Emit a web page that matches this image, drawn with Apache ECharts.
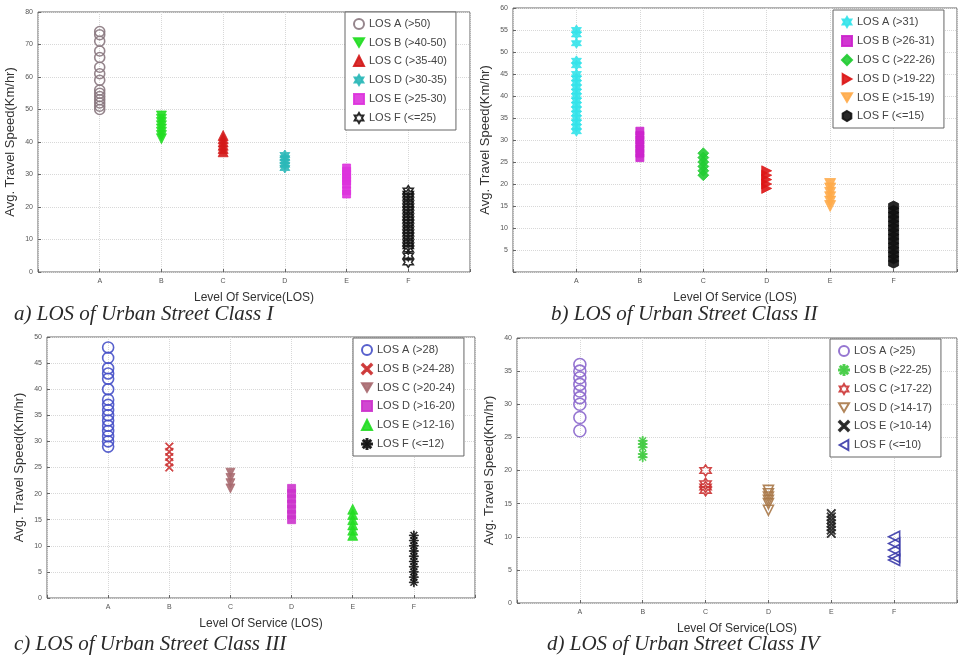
<!DOCTYPE html>
<html>
<head>
<meta charset="utf-8">
<script src="https://cdn.jsdelivr.net/npm/echarts@6/dist/echarts.min.js"></script>
<style>
  html, body { margin: 0; padding: 0; background: #fff; }
  #chart { width: 960px; height: 659px; }
</style>
</head>
<body>
<div id="chart"></div>
<script>
// category labels on the x axis (placed at 1..6)
const losCats = ["A", "B", "C", "D", "E", "F"];

// a) Urban Street Class I
const legendI = ["LOS A (>50)", "LOS B (>40-50)", "LOS C (>35-40)", "LOS D (>30-35)", "LOS E (>25-30)", "LOS F (<=25)"];
const classI = [
    [74, 73, 71, 68, 66, 63, 61, 59, 56, 55, 54, 53, 52, 51, 50],
    [48, 47, 46, 45, 44, 43, 42, 41],
    [42, 41, 40, 39, 38, 37],
    [36, 35, 34, 33, 32],
    [32, 31, 30, 29, 28, 27, 25, 24],
    [25, 24, 23, 22, 21, 20, 19, 18, 17, 16, 15, 14, 13, 12, 11, 10, 9, 8, 7, 5, 3]
];

// b) Urban Street Class II
const legendII = ["LOS A (>31)", "LOS B (>26-31)", "LOS C (>22-26)", "LOS D (>19-22)", "LOS E (>15-19)", "LOS F (<=15)"];
const classII = [
    [55, 54, 52, 48, 47, 45, 44, 43, 42, 41, 40, 39, 38, 37, 36, 35, 34, 33, 32],
    [32, 31, 30, 29, 28, 27, 26],
    [27, 26, 25, 24, 23, 22],
    [23, 22, 21, 20, 19],
    [20, 19, 18, 17, 16, 15],
    [15, 14, 13, 12, 11, 10, 9, 8, 7, 6, 5, 4, 3, 2]
];

// c) Urban Street Class III
const legendIII = ["LOS A (>28)", "LOS B (>24-28)", "LOS C (>20-24)", "LOS D (>16-20)", "LOS E (>12-16)", "LOS F (<=12)"];
const classIII = [
    [48, 46, 44, 43, 42, 40, 38, 37, 36, 35, 34, 33, 32, 31, 30, 29],
    [29, 28, 27, 26, 25],
    [24, 23, 22, 21],
    [21, 20, 19, 18, 17, 16, 15],
    [17, 16, 15, 14, 13, 12],
    [12, 11, 10, 9, 8, 7, 6, 5, 4, 3]
];

// d) Urban Street Class IV
const legendIV = ["LOS A (>25)", "LOS B (>22-25)", "LOS C (>17-22)", "LOS D (>14-17)", "LOS E (>10-14)", "LOS F (<=10)"];
const classIV = [
    [36, 35, 34, 33, 32, 31, 30, 28, 26],
    [24.5, 24, 23.5, 22.5, 22],
    [20, 18, 17.5, 17],
    [17, 16.5, 16, 15.5, 15, 14],
    [13.5, 13, 12.5, 12, 11.5, 11, 10.5],
    [10, 9, 8, 7, 6.5]
];

const captions = [
    "a) LOS of Urban Street Class I",
    "b) LOS of Urban Street Class II",
    "c) LOS of Urban Street Class III",
    "d) LOS of Urban Street Class IV"
];
const xNames = ["Level Of Service(LOS)", "Level Of Service (LOS)", "Level Of Service (LOS)", "Level Of Service(LOS)"];
const yNames = ["Avg. Travel Speed(Km/hr)", "Avg. Travel Speed(Km/hr)", "Avg. Travel Speed(Km/hr)", "Avg. Travel Speed(Km/hr)"];
const yMax = [80, 60, 50, 40];
const yStep = [10, 5, 5, 5];

// marker shapes
const HEXAGRAM = "path://M0,-10 L2.9,-5 L8.66,-5 L5.8,0 L8.66,5 L2.9,5 L0,10 L-2.9,5 L-8.66,5 L-5.8,0 L-8.66,-5 L-2.9,-5 Z";
const HEXAGON = "path://M0,-10 L8.66,-5 L8.66,5 L0,10 L-8.66,5 L-8.66,-5 Z";
const CROSS = "path://M-10,-8 L-8,-10 L0,-2 L8,-10 L10,-8 L2,0 L10,8 L8,10 L0,2 L-8,10 L-10,8 L-2,0 Z";
const ASTERISK = "path://M-1,-10 L1,-10 L1,-2.4 L6.4,-7.8 L7.8,-6.4 L2.4,-1 L10,-1 L10,1 L2.4,1 L7.8,6.4 L6.4,7.8 L1,2.4 L1,10 L-1,10 L-1,2.4 L-6.4,7.8 L-7.8,6.4 L-2.4,1 L-10,1 L-10,-1 L-2.4,-1 L-7.8,-6.4 L-6.4,-7.8 L-1,-2.4 Z";
const TRI_DOWN = "path://M-10,-8.66 L10,-8.66 L0,8.66 Z";
const TRI_RIGHT = "path://M-8.66,-10 L8.66,0 L-8.66,10 Z";
const TRI_LEFT = "path://M8.66,-10 L-8.66,0 L8.66,10 Z";

// style per class for each panel: [symbol, color, hollow, size]
const styles = [
    [["circle", "#8a7880", true, 10], [TRI_DOWN, "#22dd22", false, 10], ["triangle", "#d41a1a", false, 10],
     [HEXAGRAM, "#2bb8b8", false, 10], ["rect", "#dd33dd", false, 8], [HEXAGRAM, "#111111", true, 10]],
    [[HEXAGRAM, "#33e3ea", false, 10], ["rect", "#cc22cc", false, 8], ["diamond", "#22cc33", false, 11],
     [TRI_RIGHT, "#dd1515", false, 10], [TRI_DOWN, "#ffab4a", false, 11], [HEXAGON, "#111111", false, 10]],
    [["circle", "#4650c8", true, 11], [CROSS, "#cc3333", false, 8], [TRI_DOWN, "#a86a70", false, 9],
     ["rect", "#cc33cc", false, 8], ["triangle", "#22dd22", false, 10], [ASTERISK, "#111111", false, 9]],
    [["circle", "#8a66cc", true, 12], [ASTERISK, "#44cc44", false, 9], [HEXAGRAM, "#cc3333", true, 11],
     [TRI_DOWN, "#a87848", true, 10], [CROSS, "#222222", false, 9], [TRI_LEFT, "#3838a8", true, 11]]
];

const panelData = [classI, classII, classIII, classIV];
const panelLegends = [legendI, legendII, legendIII, legendIV];

const grids = [
    { left: 38, top: 12, width: 432, height: 260 },
    { left: 513, top: 8, width: 444, height: 264 },
    { left: 47, top: 337, width: 428, height: 261 },
    { left: 517, top: 338, width: 441, height: 265 }
];
const legendPos = [
    { left: 345, top: 12 },
    { left: 833, top: 10 },
    { left: 353, top: 338 },
    { left: 830, top: 339 }
];
const captionPos = [
    { left: 9, top: 299 },
    { left: 546, top: 299 },
    { left: 9, top: 629 },
    { left: 542, top: 629 }
];

var chart = echarts.init(document.getElementById("chart"));

const series = [];
panelData.forEach((panel, p) => {
    panel.forEach((vals, k) => {
        const st = styles[p][k];
        series.push({
            type: "scatter",
            name: panelLegends[p][k],
            xAxisIndex: p,
            yAxisIndex: p,
            symbol: st[0],
            symbolSize: st[3],
            itemStyle: {
                color: st[2] ? "rgba(255,255,255,0)" : st[1],
                borderColor: st[1],
                borderWidth: st[2] ? 1.6 : 0.8,
                opacity: 0.9
            },
            data: vals.map(v => [k + 1, v])
        });
    });
});

const tickFont = { fontSize: 7, color: "#555", fontFamily: "Liberation Sans" };

chart.setOption({
    backgroundColor: "#ffffff",
    animation: false,
    title: captions.map((t, i) => ({
        text: t,
        left: captionPos[i].left,
        top: captionPos[i].top,
        textStyle: {
            fontFamily: "Liberation Serif",
            fontStyle: "italic",
            fontWeight: "normal",
            fontSize: 21,
            color: "#2a2a2a"
        }
    })),
    grid: grids.map(g => Object.assign({
        show: true,
        borderColor: "#666",
        borderWidth: 1,
        backgroundColor: "#fff"
    }, g)),
    legend: panelLegends.map((names, i) => ({
        data: names,
        orient: "vertical",
        left: legendPos[i].left,
        top: legendPos[i].top,
        itemWidth: 10,
        itemHeight: 10,
        itemGap: 7,
        padding: [6, 9, 6, 8],
        backgroundColor: "#fff",
        borderColor: "#666",
        borderWidth: 1,
        borderRadius: 0,
        selectedMode: false,
        textStyle: { fontSize: 11, color: "#444", fontFamily: "Liberation Sans" }
    })),
    xAxis: grids.map((g, i) => ({
        type: "value",
        gridIndex: i,
        min: 0,
        max: 7,
        interval: 1,
        name: xNames[i],
        nameLocation: "middle",
        nameGap: 20,
        nameTextStyle: { fontSize: 12, color: "#333", fontFamily: "Liberation Sans" },
        axisLine: { show: false },
        axisTick: { show: true, inside: true, length: 3, lineStyle: { color: "#666" } },
        axisLabel: Object.assign({
            margin: 6,
            formatter: v => (v >= 1 && v <= 6 ? losCats[v - 1] : "")
        }, tickFont),
        splitLine: { show: true, lineStyle: { color: "#d8d8d8", type: "dotted" } }
    })),
    yAxis: grids.map((g, i) => ({
        type: "value",
        gridIndex: i,
        min: 0,
        max: yMax[i],
        interval: yStep[i],
        name: yNames[i],
        nameLocation: "middle",
        nameGap: 21,
        nameTextStyle: { fontSize: 13, color: "#333", fontFamily: "Liberation Sans" },
        axisLine: { show: false },
        axisTick: { show: true, inside: true, length: 3, lineStyle: { color: "#666" } },
        axisLabel: Object.assign({
            margin: 5,
            formatter: v => (i === 1 && v === 0 ? "" : String(v))
        }, tickFont),
        splitLine: { show: true, lineStyle: { color: "#d8d8d8", type: "dotted" } }
    })),
    series: series
});
</script>
</body>
</html>
